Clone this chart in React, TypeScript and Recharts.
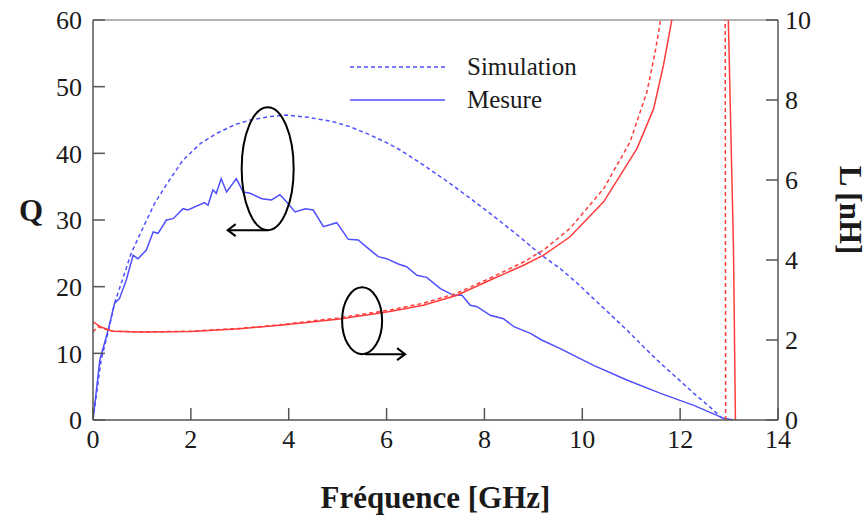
import React from 'react';
import { LineChart, Line, XAxis, YAxis, ReferenceLine, ReferenceDot, Legend } from 'recharts';

// Frequency (GHz) / value pairs
const qSimulation: [number, number][] = [
  [0, 0], [0.17, 9.2], [0.31, 13.2], [0.44, 17.5], [0.6, 21], [0.78, 25], [1.0, 28.5], [1.26, 32.5],
  [1.5, 35.3], [1.84, 39], [2.2, 41.5], [2.53, 43], [2.9, 44.3], [3.21, 45], [3.6, 45.5], [3.96, 45.75],
  [4.4, 45.4], [4.91, 44.75], [5.25, 44], [5.59, 43], [6.0, 41.6], [6.28, 40.5], [6.7, 38.5], [7.2, 36],
  [7.7, 33.3], [8.2, 30.5], [8.7, 27.6], [9.17, 24.7], [9.55, 22.7], [9.9, 20.5], [10.23, 18.2],
  [10.55, 16], [10.91, 13.5], [11.25, 11], [11.6, 8.5], [11.95, 6.2], [12.28, 4], [12.6, 2],
  [12.82, 0.5], [12.92, 0],
];

const qMesure: [number, number][] = [
  [0, 0], [0.14, 9], [0.31, 13.5], [0.44, 17.5], [0.54, 18.2], [0.68, 21], [0.82, 24.7], [0.92, 24.2],
  [1.09, 25.5], [1.23, 28.2], [1.33, 28], [1.5, 30], [1.64, 30.2], [1.84, 31.7], [1.94, 31.5],
  [2.28, 32.6], [2.35, 32.2], [2.45, 34.5], [2.52, 34], [2.62, 36.2], [2.73, 34.2], [2.93, 36.2],
  [3.07, 34.2], [3.21, 34], [3.45, 33.2], [3.65, 33], [3.82, 33.8], [3.96, 32.7], [4.13, 31.2],
  [4.34, 31.7], [4.5, 31.5], [4.71, 29], [4.98, 29.6], [5.22, 27.1], [5.42, 27], [5.63, 25.7],
  [5.83, 24.5], [6.0, 24.2], [6.24, 23.4], [6.41, 23], [6.62, 21.7], [6.82, 21.4], [7.1, 19.7],
  [7.37, 18.7], [7.54, 18.7], [7.71, 17.2], [7.85, 17], [8.12, 15.7], [8.39, 15.2], [8.6, 14],
  [8.94, 13], [9.17, 12], [9.55, 10.7], [10.23, 8.2], [10.91, 6], [11.6, 4], [12.28, 2.2],
  [12.89, 0.25], [13.09, 0],
];

const lSimulation: [number, number][] = [
  [0, 2.2], [0.1, 2.33], [0.25, 2.27], [0.4, 2.22], [1, 2.2], [2, 2.22], [3, 2.29], [3.82, 2.38],
  [5, 2.55], [6.07, 2.75], [6.75, 2.92], [7.44, 3.17], [8.12, 3.55], [8.8, 3.95], [9.21, 4.25],
  [9.75, 4.79], [10.44, 5.79], [10.98, 6.96], [11.32, 8.2], [11.49, 9.2], [11.6, 10], [11.7, 10.8],
  [12.92, 10.8], [12.93, 0],
];

const lMesure: [number, number][] = [
  [0, 2.46], [0.15, 2.33], [0.4, 2.22], [1, 2.2], [2, 2.21], [3, 2.28], [3.82, 2.37], [5, 2.52],
  [6.07, 2.71], [6.75, 2.87], [7.44, 3.12], [8.12, 3.5], [8.8, 3.87], [9.21, 4.12], [9.75, 4.58],
  [10.44, 5.46], [11.12, 6.79], [11.46, 7.79], [11.66, 8.875], [11.83, 10], [11.9, 10.6],
  [12.975, 10.6], [12.985, 10], [13.09, 4.3], [13.13, 0],
];

const xTicks = [0, 2, 4, 6, 8, 10, 12, 14];
const qTicks = [0, 10, 20, 30, 40, 50, 60];
const lTicks = [0, 2, 4, 6, 8, 10];
const legendLabels = ['Simulation', 'Mesure'];

const toRows = (arr: [number, number][]) => arr.map(([f, v]) => ({ f, v }));

const BLUE = '#4f4fff';
const RED = '#ff3c3c';
const AXIS = '#555';
const SERIF = '"Liberation Serif", "Times New Roman", serif';

const tickStyle = { fontFamily: SERIF, fontSize: 26, fill: '#1a1a1a' };
const titleStyle = { fontFamily: SERIF, fontSize: 31, fontWeight: 'bold', fill: '#1a1a1a' };

const LegendContent = () => (
  <div style={{ fontFamily: SERIF, fontSize: 25, color: '#1a1a1a' }}>
    {legendLabels.map((name, i) => (
      <div key={name} style={{ display: 'flex', alignItems: 'center', height: 33 }}>
        <svg width={119} height={10}>
          <line x1={2} y1={5} x2={97} y2={5} stroke={BLUE} strokeWidth={1.5}
            strokeDasharray={i === 0 ? '4 3' : undefined} />
        </svg>
        <span>{name}</span>
      </div>
    ))}
  </div>
);

const EllipseLeft = (p: any) => {
  const { cx, cy } = p;
  const rx = 26, ry = 61.5;
  const by = cy + ry;
  return (
    <g fill="none" stroke="#000" strokeWidth={2}>
      <ellipse cx={cx} cy={cy} rx={rx} ry={ry} />
      <path d={`M${cx} ${by} L${cx - 40} ${by}`} />
      <path d={`M${cx - 32} ${by - 6} L${cx - 40} ${by} L${cx - 32} ${by + 6}`} />
    </g>
  );
};

const EllipseRight = (p: any) => {
  const { cx, cy } = p;
  const rx = 20, ry = 33.5;
  const by = cy + ry;
  return (
    <g fill="none" stroke="#000" strokeWidth={2}>
      <ellipse cx={cx} cy={cy} rx={rx} ry={ry} />
      <path d={`M${cx + 3} ${by} L${cx + 43} ${by}`} />
      <path d={`M${cx + 35} ${by - 6} L${cx + 43} ${by} L${cx + 35} ${by + 6}`} />
    </g>
  );
};

export default function App() {
  return (
    <div style={{ position: 'absolute', left: 0, top: 0, background: '#fff' }}>
      <LineChart width={868} height={517} margin={{ top: 20, right: 0, bottom: 0, left: 0 }}>
        <XAxis
          type="number"
          dataKey="f"
          domain={[0, 14]}
          ticks={xTicks}
          allowDataOverflow
          height={97}
          stroke={AXIS}
          axisLine={{ stroke: AXIS, strokeWidth: 1.5 }}
          tickLine={{ stroke: AXIS, strokeWidth: 1.5 }}
          tickSize={-12}
          tickMargin={22}
          tick={tickStyle}
          label={{ value: 'Fréquence [GHz]', position: 'insideBottom', offset: 9, style: titleStyle }}
        />
        <YAxis
          yAxisId="q"
          domain={[0, 60]}
          ticks={qTicks}
          allowDataOverflow
          width={93}
          axisLine={{ stroke: AXIS, strokeWidth: 1.5 }}
          tickLine={{ stroke: AXIS, strokeWidth: 1.5 }}
          tickSize={-12}
          tickMargin={23}
          tick={tickStyle}
          label={(props: any) => {
            const vb = props.viewBox || { x: 0, y: 20, width: 93, height: 400 };
            const x = vb.x + 31;
            const y = vb.y + vb.height / 2 - 10;
            return (
              <text x={x} y={y} textAnchor="middle" dominantBaseline="central" style={titleStyle}>
                Q
              </text>
            );
          }}
        />
        <YAxis
          yAxisId="l"
          orientation="right"
          domain={[0, 10]}
          ticks={lTicks}
          allowDataOverflow
          width={90}
          axisLine={{ stroke: AXIS, strokeWidth: 1.5 }}
          tickLine={{ stroke: AXIS, strokeWidth: 1.5 }}
          tickSize={-12}
          tickMargin={19}
          tick={tickStyle}
          label={(props: any) => {
            const vb = props.viewBox || { x: 778, y: 20, width: 90, height: 400 };
            const x = vb.x + vb.width - 18;
            const y = vb.y + vb.height / 2 - 10;
            return (
              <text x={x} y={y} transform={`rotate(90 ${x} ${y})`} textAnchor="middle"
                dominantBaseline="central" style={titleStyle}>
                L [nH]
              </text>
            );
          }}
        />
        <ReferenceLine yAxisId="q" y={60} stroke="#9a9a9a" strokeWidth={1.5} />
        <Legend
          layout="horizontal"
          verticalAlign="middle"
          align="center"
          content={<LegendContent />}
          wrapperStyle={{ position: 'absolute', left: 348, top: 50, width: 260, bottom: 'auto' }}
        />
        <Line yAxisId="q" data={toRows(qSimulation)} dataKey="v" name="Simulation" stroke={BLUE}
          strokeWidth={1.5} strokeDasharray="4 3" dot={false} isAnimationActive={false} />
        <Line yAxisId="q" data={toRows(qMesure)} dataKey="v" name="Mesure" stroke={BLUE}
          strokeWidth={1.5} dot={false} isAnimationActive={false} />
        <Line yAxisId="l" data={toRows(lSimulation)} dataKey="v" name="L simulation" stroke={RED}
          strokeWidth={1.5} strokeDasharray="4 3" dot={false} isAnimationActive={false} legendType="none" />
        <Line yAxisId="l" data={toRows(lMesure)} dataKey="v" name="L mesure" stroke={RED}
          strokeWidth={1.5} dot={false} isAnimationActive={false} legendType="none" />
        <ReferenceDot yAxisId="q" x={3.57} y={37.7} r={1} shape={EllipseLeft} />
        <ReferenceDot yAxisId="q" x={5.5} y={14.9} r={1} shape={EllipseRight} />
      </LineChart>
    </div>
  );
}
